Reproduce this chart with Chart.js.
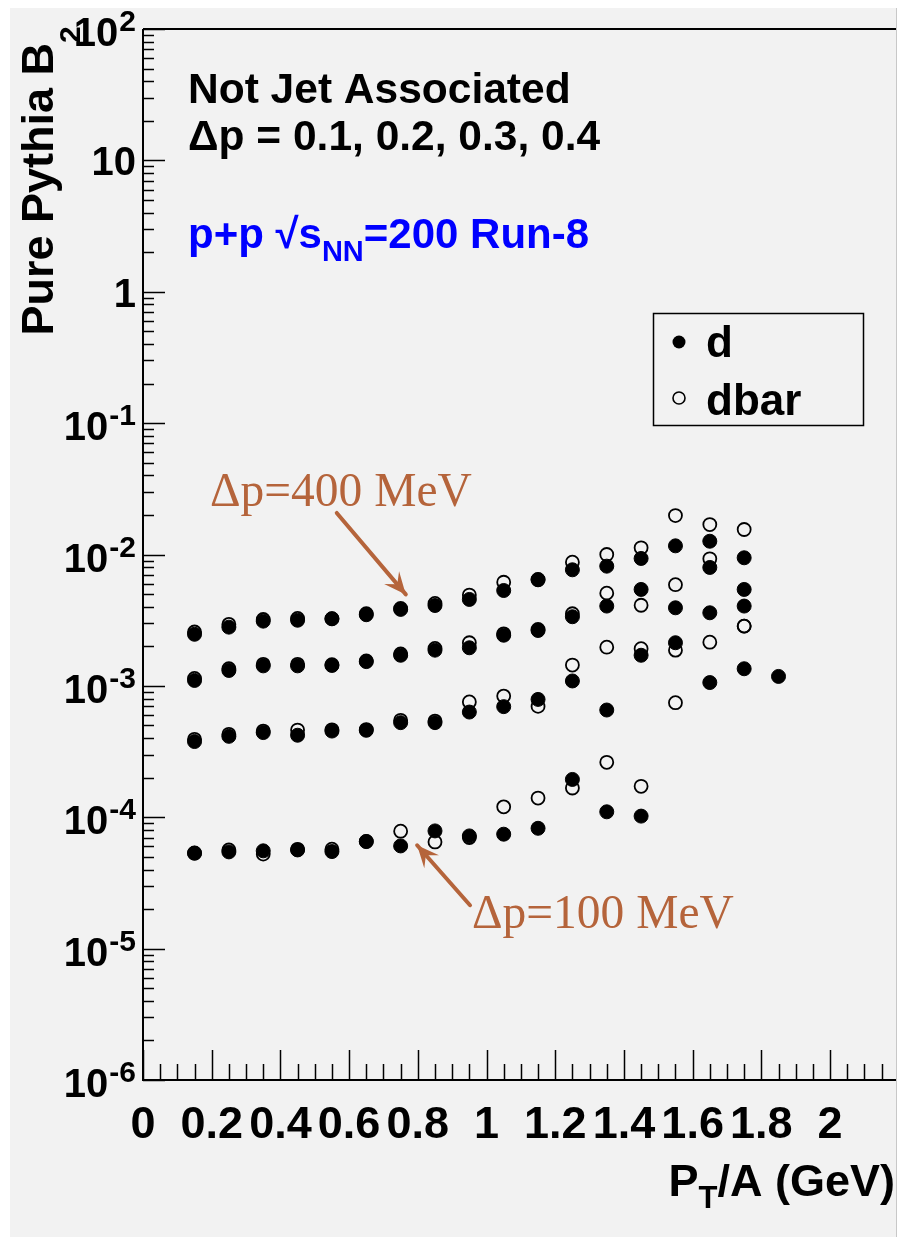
<!DOCTYPE html>
<html>
<head>
<meta charset="utf-8">
<script src="https://cdn.jsdelivr.net/npm/chart.js@4.4.1/dist/chart.umd.min.js"></script>
<style>
  html, body { margin: 0; padding: 0; background: #ffffff; }
  #wrap { position: absolute; left: 10px; top: 8px; width: 886px; height: 1229px; background: #f2f2f2; border-right: 1px solid #c8c8c8; }
</style>
</head>
<body>
<div id="wrap"><canvas id="b2Chart" width="886" height="1229"></canvas></div>
<script>
// pT/A bin centres (GeV)
const ptA = [0.15, 0.25, 0.35, 0.45, 0.55, 0.65, 0.75, 0.85, 0.95, 1.05, 1.15, 1.25, 1.35, 1.45, 1.55, 1.65, 1.75, 1.85];

// B2 values, one pair (d / dbar) per momentum window
const d_dp04    = [0.00247, 0.00280, 0.00311, 0.00316, 0.00324, 0.00348, 0.00382, 0.00409, 0.00455, 0.00532, 0.00642, 0.00765, 0.00815, 0.00933, 0.01164, 0.01262, 0.00944, null];
const dbar_dp04 = [0.00257, 0.00294, 0.00320, 0.00326, 0.00325, 0.00354, 0.00388, 0.00424, 0.00491, 0.00615, 0.00645, 0.00874, 0.0100, 0.01125, 0.0198, 0.0169, 0.0155, null];
const d_dp03    = [0.00110, 0.00131, 0.00142, 0.00142, 0.00143, 0.00153, 0.00171, 0.00187, 0.00195, 0.00243, 0.00264, 0.00336, 0.00405, 0.00542, 0.00393, 0.00797, 0.00542, null];
const dbar_dp03 = [0.00114, 0.00135, 0.00146, 0.00146, 0.00145, 0.00155, 0.00175, 0.00193, 0.00213, 0.00249, 0.00269, 0.00354, 0.00508, 0.00411, 0.00589, 0.00927, 0.00285, null];
const d_dp02    = [0.000377, 0.000413, 0.000441, 0.000421, 0.000453, 0.000459, 0.000525, 0.000525, 0.000632, 0.000695, 0.000789, 0.00109, 0.000655, 0.00171, 0.00213, 0.00360, 0.00405, null];
const dbar_dp02 = [0.000392, 0.000428, 0.000453, 0.000461, 0.000463, 0.000465, 0.000547, 0.000540, 0.000755, 0.000836, 0.000698, 0.00144, 0.00197, 0.00192, 0.00187, 0.00215, 0.00285, null];
const d_dp01    = [5.32e-5, 5.45e-5, 5.55e-5, 5.64e-5, 5.48e-5, 6.53e-5, 6.05e-5, 7.87e-5, 7.21e-5, 7.43e-5, 8.24e-5, 1.94e-4, 1.10e-4, 1.02e-4, null, 0.00106, 0.00135, 0.00118];
const dbar_dp01 = [5.35e-5, 5.64e-5, 5.24e-5, 5.70e-5, 5.71e-5, 6.55e-5, 7.83e-5, 6.49e-5, 7.01e-5, 1.20e-4, 1.40e-4, 1.67e-4, 2.62e-4, 1.72e-4, 0.000745, null, null, null];

// axis ticks
const xTickValues = [0, 0.2, 0.4, 0.6, 0.8, 1.0, 1.2, 1.4, 1.6, 1.8, 2.0];
const xTickLabels = ['0', '0.2', '0.4', '0.6', '0.8', '1', '1.2', '1.4', '1.6', '1.8', '2'];
const yTickExps = [-6, -5, -4, -3, -2, -1, 0, 1, 2];

const X_MIN = 0, X_MAX = 2.192;
const Y_MIN = 1e-6, Y_MAX = 100;

const BROWN = '#b5643b';
const SANS = '"Liberation Sans", Arial, Helvetica, sans-serif';
const SERIF = '"Liberation Serif", "Times New Roman", serif';

function toPoints(vals) {
  const pts = [];
  vals.forEach((v, i) => { if (v !== null) pts.push({ x: ptA[i], y: v }); });
  return pts;
}

function filledSet(label, vals) {
  return {
    label, data: toPoints(vals), order: 0,
    pointRadius: 7, pointBorderWidth: 1,
    pointBackgroundColor: '#000000', pointBorderColor: '#000000',
    showLine: false
  };
}
function openSet(label, vals) {
  return {
    label, data: toPoints(vals), order: 1,
    pointRadius: 6.5, pointBorderWidth: 1.8,
    pointBackgroundColor: 'rgba(0,0,0,0)', pointBorderColor: '#000000',
    showLine: false
  };
}

// ROOT-like frame, ticks, labels and annotations
const rootFrame = {
  id: 'rootFrame',
  afterDraw(chart) {
    const ctx = chart.ctx;
    const xs = chart.scales.x, ys = chart.scales.y;
    const a = chart.chartArea;
    ctx.save();
    ctx.strokeStyle = '#000';
    ctx.fillStyle = '#000';

    // axis lines
    ctx.lineWidth = 2;
    ctx.beginPath();
    ctx.moveTo(a.left, a.top); ctx.lineTo(a.right, a.top);
    ctx.moveTo(a.left, a.top); ctx.lineTo(a.left, a.bottom);
    ctx.lineTo(a.right, a.bottom);
    ctx.stroke();

    // x ticks (inside, pointing up)
    ctx.lineWidth = 1.5;
    ctx.beginPath();
    for (let i = 0; i * 0.05 <= X_MAX + 1e-9; i++) {
      const px = Math.round(xs.getPixelForValue(i * 0.05)) + 0.5;
      const len = (i % 4 === 0) ? 30 : 16;
      ctx.moveTo(px, a.bottom); ctx.lineTo(px, a.bottom - len);
    }
    // y ticks (inside, pointing right)
    for (let e = -6; e <= 2; e++) {
      for (let k = 1; k <= 9; k++) {
        if (e === 2 && k > 1) break;
        const py = Math.round(ys.getPixelForValue(k * Math.pow(10, e))) + 0.5;
        const len = (k === 1) ? 22 : 11;
        ctx.moveTo(a.left, py); ctx.lineTo(a.left + len, py);
      }
    }
    ctx.stroke();

    // x tick labels
    ctx.font = 'bold 45px ' + SANS;
    ctx.textAlign = 'center';
    ctx.textBaseline = 'alphabetic';
    xTickValues.forEach((v, i) => {
      ctx.fillText(xTickLabels[i], xs.getPixelForValue(v), a.bottom + 58);
    });

    // y tick labels (10^n)
    const xr = 126;
    yTickExps.forEach(e => {
      const py = ys.getPixelForValue(Math.pow(10, e));
      ctx.textAlign = 'right';
      if (e === 0 || e === 1) {
        ctx.font = 'bold 40px ' + SANS;
        ctx.fillText(e === 0 ? '1' : '10', xr, py + 15);
      } else {
        const sup = String(e);
        ctx.font = 'bold 30px ' + SANS;
        const sw = ctx.measureText(sup).width;
        ctx.fillText(sup, xr, py + 2);
        ctx.font = 'bold 40px ' + SANS;
        ctx.fillText('10', xr - sw - 1, py + 17);
      }
    });

    // x title: P_T/A (GeV)
    {
      const big = 'bold 45px ' + SANS, small = 'bold 31px ' + SANS;
      ctx.textAlign = 'left';
      ctx.font = big;
      const w1 = ctx.measureText('P').width;
      const w3 = ctx.measureText('/A (GeV)').width;
      ctx.font = small;
      const w2 = ctx.measureText('T').width;
      let x0 = 885 - (w1 + w2 + w3);
      const by = 1188;
      ctx.font = big; ctx.fillText('P', x0, by);
      ctx.font = small; ctx.fillText('T', x0 + w1, by + 12);
      ctx.font = big; ctx.fillText('/A (GeV)', x0 + w1 + w2, by);
    }

    // y title: Pure Pythia B_2 (rotated)
    ctx.save();
    ctx.translate(43, 35);
    ctx.rotate(-Math.PI / 2);
    ctx.font = 'bold 45px ' + SANS;
    ctx.textAlign = 'right';
    ctx.fillText('Pure Pythia B', 0, 0);
    ctx.font = 'bold 30px ' + SANS;
    ctx.textAlign = 'left';
    ctx.fillText('2', 0, 27);
    ctx.restore();

    // header texts
    ctx.textAlign = 'left';
    ctx.font = 'bold 42.5px ' + SANS;
    ctx.fillText('Not Jet Associated', 178, 95);
    ctx.fillText('\u0394p = 0.1, 0.2, 0.3, 0.4', 178, 142);

    // blue energy label
    ctx.fillStyle = '#0000ff';
    {
      let x0 = 178;
      const by = 240;
      ctx.font = 'bold 42px ' + SANS;
      const s1 = 'p+p \u221As';
      ctx.fillText(s1, x0, by);
      x0 += ctx.measureText(s1).width;
      ctx.font = 'bold 29px ' + SANS;
      ctx.fillText('NN', x0, by + 13);
      x0 += ctx.measureText('NN').width;
      ctx.font = 'bold 42px ' + SANS;
      ctx.fillText('=200 Run-8', x0, by);
    }

    // legend
    ctx.fillStyle = '#000';
    ctx.lineWidth = 1.5;
    ctx.strokeRect(643.5, 305.5, 210, 112);
    ctx.beginPath(); ctx.arc(669, 334, 6.5, 0, Math.PI * 2); ctx.fill();
    ctx.beginPath(); ctx.arc(669, 390, 6, 0, Math.PI * 2); ctx.lineWidth = 1.6; ctx.stroke();
    ctx.font = 'bold 44px ' + SANS;
    ctx.fillText('d', 696, 349);
    ctx.fillText('dbar', 696, 407);

    // annotations
    const arrow = (x1, y1, x2, y2) => {
      const p1 = [xs.getPixelForValue(x1), ys.getPixelForValue(y1)];
      const p2 = [xs.getPixelForValue(x2), ys.getPixelForValue(y2)];
      const ang = Math.atan2(p2[1] - p1[1], p2[0] - p1[0]);
      ctx.strokeStyle = BROWN; ctx.fillStyle = BROWN;
      ctx.lineWidth = 4; ctx.lineCap = 'round';
      ctx.beginPath(); ctx.moveTo(p1[0], p1[1]); ctx.lineTo(p2[0], p2[1]); ctx.stroke();
      const hl = 24, hw = 0.42;
      ctx.beginPath();
      ctx.moveTo(p2[0], p2[1]);
      ctx.lineTo(p2[0] - hl * Math.cos(ang - hw), p2[1] - hl * Math.sin(ang - hw));
      ctx.lineTo(p2[0] - hl * 0.55 * Math.cos(ang), p2[1] - hl * 0.55 * Math.sin(ang));
      ctx.lineTo(p2[0] - hl * Math.cos(ang + hw), p2[1] - hl * Math.sin(ang + hw));
      ctx.closePath(); ctx.fill();
    };
    arrow(0.564, 0.0207, 0.765, 0.00497);
    arrow(0.952, 2.14e-5, 0.798, 6.12e-5);
    ctx.fillStyle = BROWN;
    ctx.font = '47.5px ' + SERIF;
    ctx.fillText('\u0394p=400 MeV', 200, 498);
    ctx.fillText('\u0394p=100 MeV', 462, 920);

    ctx.restore();
  }
};

const ctx = document.getElementById('b2Chart').getContext('2d');
new Chart(ctx, {
  type: 'scatter',
  data: {
    datasets: [
      filledSet('d 0.4', d_dp04), filledSet('d 0.3', d_dp03), filledSet('d 0.2', d_dp02), filledSet('d 0.1', d_dp01),
      openSet('dbar 0.4', dbar_dp04), openSet('dbar 0.3', dbar_dp03), openSet('dbar 0.2', dbar_dp02), openSet('dbar 0.1', dbar_dp01)
    ]
  },
  options: {
    responsive: false,
    animation: false,
    devicePixelRatio: 1,
    layout: { autoPadding: false, padding: { left: 133, top: 21, right: 0, bottom: 157 } },
    plugins: { legend: { display: false }, tooltip: { enabled: false } },
    scales: {
      x: { type: 'linear', min: X_MIN, max: X_MAX, display: false },
      y: { type: 'logarithmic', min: Y_MIN, max: Y_MAX, display: false }
    }
  },
  plugins: [rootFrame]
});
</script>
</body>
</html>
